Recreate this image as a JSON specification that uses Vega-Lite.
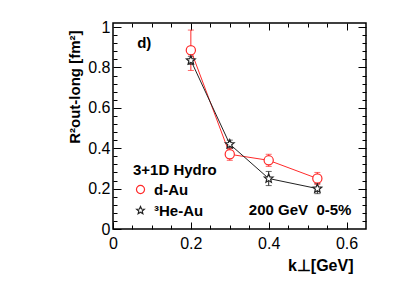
{
  "$schema": "https://vega.github.io/schema/vega-lite/v6.json",
  "width": 253,
  "height": 206,
  "autosize": "none",
  "padding": {"left": 113, "top": 23, "right": 41, "bottom": 78},
  "config": {
    "font": "Liberation Sans",
    "view": {"stroke": "#000000", "strokeWidth": 1.5},
    "axis": {"grid": false, "domain": false, "tickColor": "#000000", "labelColor": "#000000", "titleColor": "#000000", "labelOverlap": false, "labelBound": false, "labelFlush": false}
  },
  "data": {
    "values": [
      {"system": "d-Au", "k": 0.2, "r": 0.885, "lo": 0.785, "hi": 0.985},
      {"system": "d-Au", "k": 0.3, "r": 0.37, "lo": 0.34, "hi": 0.4},
      {"system": "d-Au", "k": 0.4, "r": 0.34, "lo": 0.31, "hi": 0.37},
      {"system": "d-Au", "k": 0.525, "r": 0.25, "lo": 0.22, "hi": 0.28},
      {"system": "³He-Au", "k": 0.2, "r": 0.835, "lo": 0.815, "hi": 0.855},
      {"system": "³He-Au", "k": 0.3, "r": 0.42, "lo": 0.4, "hi": 0.44},
      {"system": "³He-Au", "k": 0.4, "r": 0.25, "lo": 0.215, "hi": 0.285},
      {"system": "³He-Au", "k": 0.525, "r": 0.2, "lo": 0.175, "hi": 0.225}
    ]
  },
  "resolve": {"axis": {"x": "independent", "y": "independent"}},
  "layer": [
    {
      "mark": {"type": "rule", "strokeWidth": 1},
      "encoding": {
        "x": {"field": "k", "type": "quantitative", "scale": {"domain": [0, 0.65], "nice": false, "zero": false},
          "axis": {"orient": "bottom", "values": [0, 0.2, 0.4, 0.6], "format": "~g", "tickSize": -7, "tickWidth": 1, "labelFontSize": 16, "labelPadding": 13,
            "title": "k⊥[GeV]", "titleFontSize": 16, "titleFontWeight": "bold", "titleX": 240, "titleY": 41, "titleAlign": "right", "titleBaseline": "alphabetic", "titleAnchor": null}},
        "y": {"field": "lo", "type": "quantitative", "scale": {"domain": [0, 1.02], "nice": false, "zero": false},
          "axis": {"orient": "left", "values": [0, 0.2, 0.4, 0.6, 0.8, 1], "format": "~g", "tickSize": -8, "tickWidth": 1, "labelFontSize": 16, "labelPadding": 11,
            "title": "R²out-long [fm²]", "titleFontSize": 15, "titleFontWeight": "bold", "titleX": -31, "titleY": 7, "titleAngle": -90, "titleAlign": "right", "titleBaseline": "bottom", "titleAnchor": null}},
        "y2": {"field": "hi"},
        "stroke": {"field": "system", "type": "nominal", "scale": {"range": ["#ff2a2a", "#222222"]}, "legend": null}
      }
    },
    {
      "mark": {"type": "tick", "orient": "horizontal", "size": 6, "thickness": 1},
      "encoding": {
        "x": {"field": "k", "type": "quantitative",
          "axis": {"orient": "bottom", "values": [0.05, 0.1, 0.15, 0.25, 0.3, 0.35, 0.45, 0.5, 0.55], "labels": false, "tickSize": -4, "tickWidth": 1, "title": null}},
        "y": {"field": "lo", "type": "quantitative",
          "axis": {"orient": "left", "values": [0.04, 0.08, 0.12, 0.16, 0.24, 0.28, 0.32, 0.36, 0.44, 0.48, 0.52, 0.56, 0.64, 0.68, 0.72, 0.76, 0.84, 0.88, 0.92, 0.96], "labels": false, "tickSize": -4, "tickWidth": 1, "title": null}},
        "fill": {"field": "system", "type": "nominal", "scale": {"range": ["#ff2a2a", "#222222"]}, "legend": null}
      }
    },
    {
      "mark": {"type": "tick", "orient": "horizontal", "size": 6, "thickness": 1},
      "encoding": {
        "x": {"field": "k", "type": "quantitative",
          "axis": {"orient": "top", "values": [0.2, 0.4, 0.6], "labels": false, "tickSize": -7, "tickWidth": 1, "title": null}},
        "y": {"field": "hi", "type": "quantitative",
          "axis": {"orient": "right", "values": [0.2, 0.4, 0.6, 0.8, 1], "labels": false, "tickSize": -8, "tickWidth": 1, "title": null}},
        "fill": {"field": "system", "type": "nominal", "legend": null}
      }
    },
    {
      "mark": {"type": "line", "strokeWidth": 1},
      "encoding": {
        "x": {"field": "k", "type": "quantitative",
          "axis": {"orient": "top", "values": [0.05, 0.1, 0.15, 0.25, 0.3, 0.35, 0.45, 0.5, 0.55], "labels": false, "tickSize": -4, "tickWidth": 1, "title": null}},
        "y": {"field": "r", "type": "quantitative",
          "axis": {"orient": "right", "values": [0.04, 0.08, 0.12, 0.16, 0.24, 0.28, 0.32, 0.36, 0.44, 0.48, 0.52, 0.56, 0.64, 0.68, 0.72, 0.76, 0.84, 0.88, 0.92, 0.96], "labels": false, "tickSize": -4, "tickWidth": 1, "title": null}},
        "stroke": {"field": "system", "type": "nominal", "legend": null},
        "detail": {"field": "system"}
      }
    },
    {
      "mark": {"type": "point", "filled": false, "fill": "#ffffff", "fillOpacity": 1, "strokeWidth": 1.2, "size": 85},
      "encoding": {
        "x": {"field": "k", "type": "quantitative", "axis": null},
        "y": {"field": "r", "type": "quantitative", "axis": null},
        "color": {"field": "system", "type": "nominal", "scale": {"domain": ["d-Au", "³He-Au"], "range": ["#ff2a2a", "#222222"]},
          "legend": {"orient": "none", "legendX": 20, "legendY": 140, "title": "3+1D Hydro", "titleFontSize": 15, "titleFontWeight": "bold", "titleColor": "#000000",
            "labelFontSize": 15, "labelFontWeight": "bold", "labelColor": "#000000", "symbolSize": 65, "symbolStrokeWidth": 1.2, "labelOffset": 6, "rowPadding": 5, "titlePadding": 4}},
        "shape": {"field": "system", "type": "nominal", "scale": {"domain": ["d-Au", "³He-Au"], "range": ["circle", "M0,-1L0.265,-0.364L0.951,-0.309L0.428,0.139L0.588,0.809L0,0.45L-0.588,0.809L-0.428,0.139L-0.951,-0.309L-0.265,-0.364Z"]},
          "legend": {"orient": "none", "legendX": 20, "legendY": 140, "title": "3+1D Hydro", "titleFontSize": 15, "titleFontWeight": "bold", "titleColor": "#000000",
            "labelFontSize": 15, "labelFontWeight": "bold", "labelColor": "#000000", "symbolSize": 65, "symbolStrokeWidth": 1.2, "labelOffset": 6, "rowPadding": 5, "titlePadding": 4}}
      }
    },
    {
      "data": {"values": [{"label": "d)"}]},
      "mark": {"type": "text", "align": "left", "baseline": "middle", "fontSize": 15, "fontWeight": "bold", "color": "#000000"},
      "encoding": {
        "x": {"datum": 0.062, "type": "quantitative", "axis": null},
        "y": {"datum": 0.92, "type": "quantitative", "axis": null},
        "text": {"field": "label"}
      }
    },
    {
      "data": {"values": [{"label": "200 GeV\u00a0 0-5%"}]},
      "mark": {"type": "text", "align": "left", "baseline": "middle", "fontSize": 15, "fontWeight": "bold", "color": "#000000"},
      "encoding": {
        "x": {"datum": 0.349, "type": "quantitative", "axis": null},
        "y": {"datum": 0.093, "type": "quantitative", "axis": null},
        "text": {"field": "label"}
      }
    }
  ]
}
